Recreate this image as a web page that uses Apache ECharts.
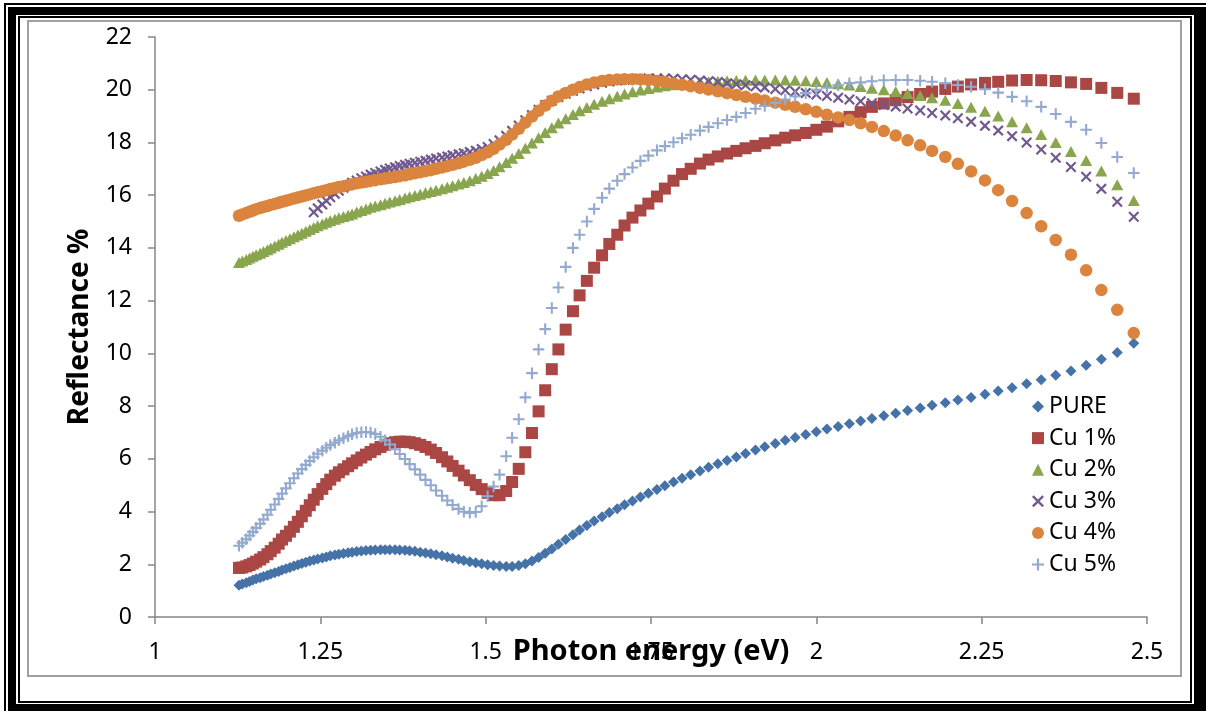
<!DOCTYPE html>
<html>
<head>
<meta charset="utf-8">
<script src="https://cdn.jsdelivr.net/npm/echarts/dist/echarts.min.js"></script>
<style>
html,body{margin:0;padding:0;background:#fff;}
#chart{width:1206px;height:711px;}
</style>
</head>
<body>
<div id="chart"></div>
<script>
// Photon energy (eV) of each sample point
const energy = [
1.127,1.132,1.138,1.143,1.148,1.153,1.159,1.164,1.170,1.175,
1.181,1.187,1.192,1.198,1.204,1.210,1.216,1.222,1.228,1.234,
1.240,1.246,1.253,1.259,1.265,1.272,1.278,1.285,1.292,1.298,
1.305,1.312,1.319,1.326,1.333,1.341,1.348,1.355,1.363,1.370,
1.378,1.385,1.393,1.401,1.409,1.417,1.425,1.434,1.442,1.450,
1.459,1.467,1.476,1.485,1.494,1.503,1.512,1.521,1.531,1.540,
1.550,1.560,1.570,1.580,1.590,1.600,1.610,1.621,1.632,1.642,
1.653,1.664,1.676,1.687,1.699,1.710,1.722,1.734,1.746,1.759,
1.771,1.784,1.797,1.810,1.824,1.837,1.851,1.865,1.879,1.893,
1.908,1.922,1.938,1.953,1.968,1.984,2.000,2.016,2.033,2.050,
2.067,2.084,2.102,2.120,2.138,2.157,2.175,2.195,2.214,2.234,
2.255,2.275,2.296,2.318,2.340,2.362,2.385,2.408,2.431,2.455,
2.480];

const pure = [
1.20,1.25,1.30,1.35,1.40,1.45,1.49,1.54,1.58,1.63,
1.68,1.73,1.78,1.83,1.88,1.93,1.98,2.03,2.08,2.12,
2.16,2.20,2.24,2.28,2.32,2.35,2.38,2.41,2.44,2.46,
2.48,2.50,2.52,2.53,2.54,2.55,2.55,2.55,2.55,2.54,
2.53,2.51,2.49,2.46,2.43,2.40,2.36,2.32,2.28,2.23,
2.19,2.14,2.10,2.06,2.02,1.98,1.95,1.93,1.92,1.92,
1.95,2.02,2.12,2.26,2.42,2.58,2.76,2.94,3.12,3.30,
3.47,3.64,3.80,3.96,4.11,4.26,4.40,4.55,4.69,4.84,
4.98,5.12,5.26,5.40,5.54,5.68,5.81,5.94,6.07,6.20,
6.33,6.46,6.58,6.70,6.81,6.92,7.03,7.13,7.23,7.33,
7.43,7.53,7.63,7.73,7.83,7.93,8.03,8.13,8.23,8.33,
8.45,8.57,8.70,8.85,9.00,9.17,9.33,9.55,9.78,10.03,
10.38];

const cu1 = [
1.86,1.88,1.92,1.97,2.03,2.10,2.18,2.27,2.38,2.50,
2.63,2.78,2.94,3.08,3.24,3.42,3.61,3.82,4.03,4.24,
4.45,4.66,4.86,5.04,5.21,5.36,5.49,5.60,5.72,5.83,
5.94,6.05,6.16,6.26,6.36,6.45,6.53,6.59,6.63,6.65,
6.65,6.63,6.59,6.53,6.45,6.35,6.22,6.06,5.90,5.73,
5.55,5.37,5.19,5.01,4.85,4.71,4.62,4.62,4.78,5.12,
5.62,6.25,6.98,7.80,8.60,9.40,10.15,10.90,11.60,12.20,
12.75,13.25,13.72,14.15,14.50,14.85,15.15,15.42,15.68,15.95,
16.25,16.55,16.80,17.00,17.20,17.35,17.47,17.58,17.68,17.78,
17.87,17.97,18.08,18.18,18.27,18.36,18.48,18.60,18.80,18.97,
19.15,19.35,19.48,19.60,19.72,19.84,19.93,20.03,20.12,20.20,
20.26,20.30,20.35,20.37,20.36,20.33,20.28,20.22,20.07,19.88,
19.66];

const cu2 = [
13.45,13.50,13.56,13.62,13.68,13.74,13.80,13.86,13.93,14.00,
14.07,14.14,14.21,14.28,14.35,14.42,14.49,14.56,14.63,14.70,
14.77,14.84,14.91,14.97,15.03,15.09,15.14,15.19,15.24,15.29,
15.36,15.42,15.48,15.54,15.59,15.64,15.69,15.74,15.79,15.84,
15.89,15.94,15.99,16.04,16.09,16.14,16.19,16.24,16.30,16.36,
16.42,16.48,16.55,16.63,16.72,16.82,16.94,17.08,17.24,17.40,
17.58,17.78,17.98,18.18,18.38,18.56,18.74,18.90,19.06,19.20,
19.33,19.45,19.56,19.66,19.75,19.84,19.92,19.99,20.05,20.10,
20.15,20.19,20.22,20.25,20.28,20.30,20.32,20.34,20.35,20.36,
20.37,20.37,20.37,20.37,20.36,20.34,20.31,20.27,20.23,20.18,
20.12,20.06,20.00,19.93,19.86,19.78,19.70,19.60,19.48,19.34,
19.18,19.00,18.79,18.56,18.30,18.00,17.66,17.32,16.92,16.40,
15.80];

const cu3 = [
null,null,null,null,null,null,null,null,null,null,
null,null,null,null,null,null,null,null,null,null,
15.35,15.50,15.65,15.79,15.92,16.05,16.17,16.28,16.38,16.47,
16.56,16.64,16.71,16.78,16.84,16.90,16.96,17.01,17.06,17.11,
17.15,17.19,17.23,17.27,17.31,17.35,17.39,17.43,17.47,17.51,
17.55,17.59,17.64,17.69,17.75,17.83,17.94,18.08,18.25,18.44,
18.64,18.84,19.04,19.24,19.42,19.58,19.72,19.85,19.96,20.05,
20.13,20.20,20.26,20.31,20.35,20.38,20.40,20.42,20.43,20.43,
20.43,20.42,20.40,20.38,20.35,20.32,20.29,20.25,20.21,20.17,
20.13,20.08,20.03,19.98,19.93,19.88,19.82,19.76,19.70,19.63,
19.56,19.49,19.42,19.36,19.29,19.21,19.12,19.02,18.92,18.79,
18.63,18.45,18.24,18.00,17.73,17.42,17.07,16.70,16.24,15.75,
15.18];

const cu4 = [
15.22,15.27,15.32,15.37,15.42,15.47,15.51,15.55,15.59,15.63,
15.67,15.71,15.75,15.79,15.83,15.87,15.91,15.95,15.99,16.03,
16.07,16.11,16.15,16.19,16.23,16.27,16.31,16.34,16.38,16.41,
16.45,16.48,16.51,16.54,16.57,16.60,16.63,16.66,16.69,16.72,
16.75,16.79,16.83,16.87,16.91,16.95,17.00,17.05,17.10,17.15,
17.21,17.27,17.34,17.42,17.52,17.63,17.76,17.92,18.10,18.30,
18.52,18.75,18.98,19.20,19.40,19.58,19.74,19.88,20.00,20.10,
20.20,20.27,20.33,20.37,20.39,20.40,20.40,20.39,20.37,20.33,
20.29,20.24,20.19,20.13,20.07,20.01,19.94,19.87,19.80,19.73,
19.66,19.59,19.51,19.43,19.35,19.26,19.16,19.05,18.95,18.85,
18.73,18.59,18.43,18.26,18.08,17.89,17.68,17.45,17.19,16.90,
16.56,16.19,15.78,15.32,14.82,14.30,13.74,13.15,12.40,11.65,
10.77];

const cu5 = [
2.70,2.82,2.95,3.09,3.23,3.38,3.54,3.70,3.88,4.07,
4.27,4.48,4.68,4.88,5.07,5.26,5.44,5.61,5.77,5.92,
6.06,6.19,6.31,6.42,6.52,6.61,6.70,6.78,6.86,6.93,
6.98,7.01,7.02,7.00,6.94,6.84,6.70,6.54,6.36,6.18,
5.99,5.80,5.60,5.40,5.20,5.00,4.80,4.60,4.42,4.25,
4.10,3.99,3.95,3.98,4.20,4.58,4.95,5.40,6.10,6.80,
7.50,8.33,9.25,10.15,10.92,11.72,12.50,13.28,14.00,14.50,
15.00,15.48,15.90,16.25,16.55,16.80,17.05,17.30,17.50,17.70,
17.86,18.01,18.16,18.29,18.45,18.59,18.73,18.85,18.97,19.12,
19.28,19.38,19.50,19.63,19.74,19.87,20.00,20.08,20.17,20.25,
20.28,20.32,20.36,20.37,20.37,20.34,20.30,20.25,20.18,20.11,
20.02,19.89,19.73,19.56,19.35,19.08,18.78,18.48,17.98,17.45,
16.84];

const seriesNames = ['PURE', 'Cu 1%', 'Cu 2%', 'Cu 3%', 'Cu 4%', 'Cu 5%'];
const seriesValues = [pure, cu1, cu2, cu3, cu4, cu5];
const xTickLabels = ['1', '1.25', '1.5', '1.75', '2', '2.25', '2.5'];
const yTickLabels = ['0', '2', '4', '6', '8', '10', '12', '14', '16', '18', '20', '22'];

const colors = ['#4572A7', '#AA4643', '#89A54E', '#71588F', '#DB843D', '#93A9CF'];
const X_PATH = 'path://M0,1.4L1.4,0L5,3.6L8.6,0L10,1.4L6.4,5L10,8.6L8.6,10L5,6.4L1.4,10L0,8.6L3.6,5Z';
const PLUS_PATH = 'path://M4.1,0H5.9V4.1H10V5.9H5.9V10H4.1V5.9H0V4.1H4.1Z';
const symbols = ['diamond', 'rect', 'triangle', X_PATH, 'circle', PLUS_PATH];
const symbolSizes = [11, 12, [12, 11], 11, 12.5, 11.5];

const FONT = 'Noto Sans';
const axisGray = '#868686';

const series = seriesNames.map((name, i) => ({
  name: name,
  type: 'scatter',
  symbol: symbols[i],
  symbolSize: symbolSizes[i],
  itemStyle: { color: colors[i], opacity: 1 },
  emphasis: { disabled: true },
  data: energy.map((e, k) => [e, seriesValues[i][k]]).filter(p => p[1] !== null)
}));

const chart = echarts.init(document.getElementById('chart'), null, { renderer: 'canvas' });
chart.setOption({
  animation: false,
  backgroundColor: '#ffffff',
  color: colors,
  grid: { left: 155, right: 59, top: 37, bottom: 94, containLabel: false },
  xAxis: {
    type: 'value', min: 1, max: 2.5, interval: 0.25,
    splitLine: { show: false },
    axisLine: { onZero: false, lineStyle: { color: axisGray, width: 1.5 } },
    axisTick: { show: true, length: 7, lineStyle: { color: axisGray, width: 1.5 } },
    axisLabel: {
      color: '#000', fontSize: 23, fontFamily: FONT, margin: 24,
      formatter: v => xTickLabels[Math.round((v - 1) / 0.25)]
    },
    name: 'Photon energy (eV)', nameLocation: 'middle', nameGap: 20,
    nameMoveOverlap: false,
    nameTextStyle: { color: '#000', fontSize: 29, fontWeight: 'bold', fontFamily: FONT }
  },
  yAxis: {
    type: 'value', min: 0, max: 22, interval: 2,
    splitLine: { show: false },
    axisLine: { show: true, lineStyle: { color: axisGray, width: 1.5 } },
    axisTick: { show: true, length: 7, lineStyle: { color: axisGray, width: 1.5 } },
    axisLabel: {
      color: '#000', fontSize: 23, fontFamily: FONT, margin: 23,
      formatter: v => yTickLabels[Math.round(v / 2)]
    },
    name: 'Reflectance %', nameLocation: 'middle', nameGap: 61, nameRotate: 90,
    nameMoveOverlap: false,
    nameTextStyle: { color: '#000', fontSize: 28, fontWeight: 'bold', fontFamily: FONT }
  },
  legend: {
    orient: 'vertical', left: 1032, top: 395, padding: 0,
    itemGap: 8.6, itemWidth: 12, itemHeight: 12,
    selectedMode: false,
    textStyle: { color: '#000', fontSize: 23, fontFamily: FONT, lineHeight: 23 },
    data: seriesNames.map((n, i) => ({ name: n, icon: symbols[i] }))
  },
  graphic: [
    { type: 'rect', z: -5, z2: 0, silent: true, shape: { x: 5, y: 4, width: 1400, height: 900 },
      style: { fill: null, stroke: '#000', lineWidth: 2 } },
    { type: 'rect', z: -5, z2: 1, silent: true, shape: { x: 8, y: 7, width: 1198, height: 704 },
      style: { fill: '#000' } },
    { type: 'rect', z: -5, z2: 2, silent: true, shape: { x: 16, y: 15, width: 1178, height: 689 },
      style: { fill: '#fff' } },
    { type: 'rect', z: -5, z2: 3, silent: true, shape: { x: 19, y: 17, width: 1172, height: 685 },
      style: { fill: null, stroke: '#000', lineWidth: 2 } },
    { type: 'rect', z: -5, z2: 4, silent: true, shape: { x: 28, y: 21, width: 1153, height: 655 },
      style: { fill: '#fff', stroke: '#A0A0A0', lineWidth: 2 } }
  ],
  series: series
});
</script>
</body>
</html>
